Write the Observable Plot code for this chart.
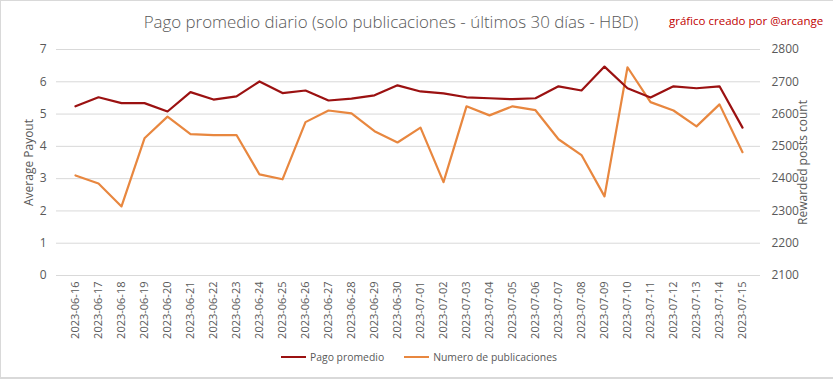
<!DOCTYPE html>
<html>
<head>
<meta charset="utf-8">
<script src="https://cdn.jsdelivr.net/npm/d3@7"></script>
<script src="https://cdn.jsdelivr.net/npm/@observablehq/plot@0.6"></script>
<style>
  html, body { margin: 0; padding: 0; background: #fff; }
  #wrap { position: relative; width: 833px; height: 379px; box-sizing: border-box; border: 1px solid #d9d9d9; border-width: 1px 0 2px 1px; overflow: hidden; font-family: "Open Sans", sans-serif; }
  #title { position: absolute; left: 0; top: 9px; width: 780px; text-align: center; font-size: 16.9px; font-weight: 300; color: #595959; white-space: nowrap; }
  #credit { position: absolute; left: 668px; top: 12px; font-size: 11.5px; color: #c00000; white-space: nowrap; }
  #legend { position: absolute; top: 349px; left: 280px; font-size: 10.4px; color: #595959; white-space: nowrap; display: flex; align-items: center; }
  #legend .sw { display: inline-block; width: 25px; height: 2px; margin-right: 4px; }
  #legend .item { display: flex; align-items: center; margin-right: 20px; }
  #chart { position: absolute; left: -1px; top: -1px; }
</style>
</head>
<body>
<div id="wrap">
  <div id="chart"></div>
  <div id="title">Pago promedio diario (solo publicaciones - últimos 30 días - HBD)</div>
  <div id="credit">gráfico creado por @arcange</div>
  <div id="legend">
    <span class="item"><span class="sw" style="background:#9b1111"></span>Pago promedio</span>
    <span class="item"><span class="sw" style="background:#e8873f"></span>Numero de publicaciones</span>
  </div>
</div>
<script>
const dates = ["2023-06-16","2023-06-17","2023-06-18","2023-06-19","2023-06-20","2023-06-21","2023-06-22","2023-06-23","2023-06-24","2023-06-25","2023-06-26","2023-06-27","2023-06-28","2023-06-29","2023-06-30","2023-07-01","2023-07-02","2023-07-03","2023-07-04","2023-07-05","2023-07-06","2023-07-07","2023-07-08","2023-07-09","2023-07-10","2023-07-11","2023-07-12","2023-07-13","2023-07-14","2023-07-15"];
const pagoPromedio = [5.24,5.52,5.34,5.34,5.08,5.68,5.45,5.55,6.01,5.65,5.73,5.42,5.48,5.58,5.89,5.70,5.64,5.52,5.49,5.46,5.49,5.86,5.73,6.47,5.80,5.51,5.86,5.80,5.86,4.58];
const numeroPublicaciones = [2410,2385,2314,2525,2592,2538,2535,2535,2413,2398,2575,2611,2602,2547,2512,2558,2389,2624,2596,2624,2612,2522,2473,2345,2745,2637,2611,2562,2630,2482];
const leftTicks = [0,1,2,3,4,5,6,7];
const rightMin = 2100, rightStep = 100;

const rows = dates.map((d, i) => ({date: d, pago: pagoPromedio[i], num: numeroPublicaciones[i]}));
const toLeft = v => (v - rightMin) / rightStep;

const txt = "#595959";
const chart = Plot.plot({
  width: 833,
  height: 379,
  marginLeft: 56,
  marginRight: 73,
  marginTop: 49,
  marginBottom: 104,
  style: {fontFamily: "Open Sans, sans-serif", fontSize: "11px", color: txt, background: "transparent"},
  x: {type: "point", domain: dates, padding: 0.5, label: null},
  y: {domain: [0, 7], label: null},
  marks: [
    Plot.ruleY(leftTicks, {stroke: "#d9d9d9", strokeWidth: 1}),
    Plot.axisY(leftTicks, {anchor: "left", tickSize: 0, tickPadding: 10, fontSize: 12, fill: txt, label: "Average Payout", labelAnchor: "center", labelOffset: 32, labelArrow: "none"}),
    Plot.axisY(leftTicks, {anchor: "right", tickSize: 0, tickPadding: 11, fontSize: 12, fill: txt, tickFormat: d => String(rightMin + d * rightStep), label: "Rewarded posts count", labelAnchor: "center", labelOffset: 46, labelArrow: "none"}),
    Plot.axisX({tickSize: 0, tickPadding: 6, tickRotate: -90, fontSize: 11, fill: txt, label: null}),
    Plot.line(rows, {x: "date", y: d => toLeft(d.num), stroke: "#e8873f", strokeWidth: 2.2}),
    Plot.line(rows, {x: "date", y: "pago", stroke: "#9b1111", strokeWidth: 2.2})
  ]
});
document.getElementById("chart").appendChild(chart);
</script>
</body>
</html>
